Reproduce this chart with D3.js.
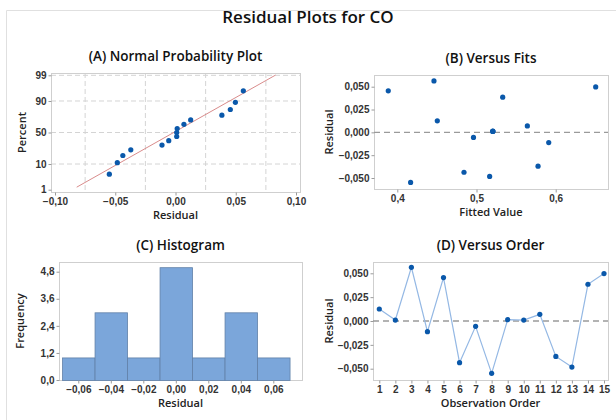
<!DOCTYPE html>
<html>
<head>
<meta charset="utf-8">
<script src="https://cdn.jsdelivr.net/npm/d3@7"></script>
<style>
  body { margin: 0; background: #fff; }
  svg { font-family: "Open Sans", "Noto Sans", sans-serif; }
  .tick text { font-size: 10px; font-weight: 600; fill: #333; }
  .tick line { stroke: #9a9a9a; }
</style>
</head>
<body>
<div id="chart"></div>
<script>
// residuals by observation order, and fitted values
const observation = [1, 2, 3, 4, 5, 6, 7, 8, 9, 10, 11, 12, 13, 14, 15]
const residuals = [0.0126, 0.0010, 0.0563, -0.0112, 0.0455, -0.0437, -0.0056, -0.0549, 0.0014, 0.0010, 0.0070, -0.0371, -0.0483, 0.0385, 0.0497]
const fitted = [0.4505, 0.5206, 0.4463, 0.5912, 0.3886, 0.4842, 0.4962, 0.4168, 0.5206, 0.5206, 0.5642, 0.5777, 0.5166, 0.5331, 0.6505]
// probability plot percent for the sorted residuals
const probPercent = [4.5, 11, 17.5, 24, 30.5, 37, 43.5, 50, 56.5, 63, 69.5, 76, 82.5, 89, 95.5]
const fitMean = -0.0015
const fitSd = 0.0362
const fitRange = [-0.082, 0.083]

// histogram
const binStart = [-0.07, -0.05, -0.03, -0.01, 0.01, 0.03, 0.05]
const binEnd = [-0.05, -0.03, -0.01, 0.01, 0.03, 0.05, 0.07]
const binCount = [1, 3, 1, 5, 1, 3, 1]

// tick labels
const pctTicks = [1, 10, 50, 90, 99]
const resTicksA = [-0.10, -0.05, 0.00, 0.05, 0.10]
const gridA = [-0.075, -0.025, 0.025, 0.075]
const fitTicks = [0.4, 0.5, 0.6]
const resTicks = [-0.050, -0.025, 0.000, 0.025, 0.050]
const freqTicks = [0, 1.2, 2.4, 3.6, 4.8]
const histTicks = [-0.06, -0.04, -0.02, 0.00, 0.02, 0.04, 0.06]

const loc = d3.formatLocale({decimal: ",", thousands: ".", grouping: [3], currency: ["", ""]})

// inverse normal cdf (Acklam)
function probit(p) {
    const a = [-39.69683028665376, 220.9460984245205, -275.9285104469687, 138.3577518672690, -30.66479806614716, 2.506628277459239]
    const b = [-54.47609879822406, 161.5858368580409, -155.6989798598866, 66.80131188771972, -13.28068155288572]
    const c = [-0.007784894002430293, -0.3223964580411365, -2.400758277161838, -2.549732539343734, 4.374664141464968, 2.938163982698783]
    const d = [0.007784695709041462, 0.3224671290700398, 2.445134137142996, 3.754408661907416]
    const pl = 0.02425
    let q, r
    if (p < pl) {
        q = Math.sqrt(-2 * Math.log(p))
        return (((((c[0]*q+c[1])*q+c[2])*q+c[3])*q+c[4])*q+c[5]) / ((((d[0]*q+d[1])*q+d[2])*q+d[3])*q+1)
    }
    if (p <= 1 - pl) {
        q = p - 0.5; r = q * q
        return (((((a[0]*r+a[1])*r+a[2])*r+a[3])*r+a[4])*r+a[5])*q / (((((b[0]*r+b[1])*r+b[2])*r+b[3])*r+b[4])*r+1)
    }
    q = Math.sqrt(-2 * Math.log(1 - p))
    return -(((((c[0]*q+c[1])*q+c[2])*q+c[3])*q+c[4])*q+c[5]) / ((((d[0]*q+d[1])*q+d[2])*q+d[3])*q+1)
}

const width = 616, height = 420
const svg = d3.select("#chart").append("svg").attr("width", width).attr("height", height)

// outer frame
svg.append("path").attr("d", "M6.5,420 V10.5 H616").attr("fill", "none").attr("stroke", "#e0e0e0")

svg.append("text").attr("x", 308).attr("y", 23).attr("text-anchor", "middle")
    .style("font-size", "17px").style("font-weight", 600).attr("fill", "#111").text("Residual Plots for CO")

const dotColor = "#0a58aa"

function frame(box) {
    svg.append("rect").attr("x", box.x0 + 0.5).attr("y", box.y0 + 0.5)
        .attr("width", box.x1 - box.x0).attr("height", box.y1 - box.y0)
        .attr("fill", "none").attr("stroke", "#cfcfcf")
}

function titles(box, title, xTitle, yTitle, yTitleX) {
    const cx = (box.x0 + box.x1) / 2
    svg.append("text").attr("x", cx).attr("y", box.y0 - 12).attr("text-anchor", "middle")
        .style("font-size", "13.5px").style("font-weight", 600).attr("fill", "#111").text(title)
    svg.append("text").attr("x", cx).attr("y", box.y1 + 27).attr("text-anchor", "middle")
        .style("font-size", "11px").style("font-weight", 600).attr("fill", "#222").text(xTitle)
    svg.append("text").attr("transform", `translate(${yTitleX},${(box.y0 + box.y1) / 2}) rotate(-90)`)
        .attr("text-anchor", "middle").style("font-size", "11px").style("font-weight", 600)
        .attr("fill", "#222").text(yTitle)
}

function axes(box, x, y, xTicks, yTicks, xFmt, yFmt) {
    svg.append("g").attr("transform", `translate(0,${box.y1 + 0.5})`)
        .call(d3.axisBottom(x).tickValues(xTicks).tickFormat(xFmt).tickSize(3).tickPadding(2))
        .call(g => g.select(".domain").remove())
    svg.append("g").attr("transform", `translate(${box.x0 + 0.5},0)`)
        .call(d3.axisLeft(y).tickValues(yTicks).tickFormat(yFmt).tickSize(3).tickPadding(2))
        .call(g => g.select(".domain").remove())
}

// ---- (A) Normal Probability Plot
const boxA = {x0: 51, x1: 300, y0: 73, y1: 192}
const xA = d3.scaleLinear().domain([-0.10, 0.10]).range([55, 296])
const zA = d3.scaleLinear().domain([-2.42, 2.42]).range([boxA.y1, boxA.y0])
const yA = p => zA(probit(p / 100))

const gA = svg.append("g")
gA.selectAll("line.vg").data(gridA).enter().append("line")
    .attr("x1", d => xA(d)).attr("x2", d => xA(d)).attr("y1", boxA.y0).attr("y2", boxA.y1)
    .attr("stroke", "#d4d4d4").attr("stroke-dasharray", "5,3")
gA.selectAll("line.hg").data(pctTicks.filter(p => p > 1)).enter().append("line")
    .attr("x1", boxA.x0).attr("x2", boxA.x1).attr("y1", d => yA(d)).attr("y2", d => yA(d))
    .attr("stroke", "#d4d4d4").attr("stroke-dasharray", "5,3")
frame(boxA)
gA.append("line")
    .attr("x1", xA(fitRange[0])).attr("y1", zA((fitRange[0] - fitMean) / fitSd))
    .attr("x2", xA(fitRange[1])).attr("y2", zA((fitRange[1] - fitMean) / fitSd))
    .attr("stroke", "#d98c8c").attr("stroke-width", 1)
const sortedRes = residuals.slice().sort(d3.ascending)
gA.selectAll("circle").data(sortedRes).enter().append("circle")
    .attr("cx", d => xA(d)).attr("cy", (d, i) => yA(probPercent[i])).attr("r", 2.6).attr("fill", dotColor)
axes(boxA, xA, zA, resTicksA, pctTicks.map(p => probit(p / 100)), loc.format(".2f"), (d, i) => pctTicks[i])
titles(boxA, "(A) Normal Probability Plot", "Residual", "Percent", 26)

// ---- (B) Versus Fits
const boxB = {x0: 374, x1: 608, y0: 75, y1: 189}
const xB = d3.scaleLinear().domain([0.4, 0.6]).range([397.3, 555.7])
const yB = d3.scaleLinear().domain([-0.05, 0.05]).range([178, 86.7])
frame(boxB)
svg.append("line").attr("x1", boxB.x0).attr("x2", boxB.x1).attr("y1", yB(0)).attr("y2", yB(0))
    .attr("stroke", "#9a9a9a").attr("stroke-width", 1.4).attr("stroke-dasharray", "6,4")
svg.append("g").selectAll("circle").data(fitted).enter().append("circle")
    .attr("cx", d => xB(d)).attr("cy", (d, i) => yB(residuals[i])).attr("r", 2.6).attr("fill", dotColor)
axes(boxB, xB, yB, fitTicks, resTicks, loc.format(".1f"), loc.format(".3f"))
titles(boxB, "(B) Versus Fits", "Fitted Value", "Residual", 333)

// ---- (C) Histogram
const boxC = {x0: 59, x1: 302, y0: 262, y1: 380}
const xC = d3.scaleLinear().domain([-0.06, 0.06]).range([78.3, 273.3])
const yC = d3.scaleLinear().domain([0, 4.8]).range([380, 271.7])
frame(boxC)
svg.append("g").selectAll("rect").data(binCount).enter().append("rect")
    .attr("x", (d, i) => xC(binStart[i]) + 0.5).attr("y", d => yC(d) + 0.5)
    .attr("width", (d, i) => xC(binEnd[i]) - xC(binStart[i])).attr("height", d => yC(0) - yC(d))
    .attr("fill", "#7ba6da").attr("stroke", "#6180a8").attr("stroke-width", 0.8)
axes(boxC, xC, yC, histTicks, freqTicks, loc.format(".2f"), loc.format(".1f"))
titles(boxC, "(C) Histogram", "Residual", "Frequency", 24)

// ---- (D) Versus Order
const boxD = {x0: 373, x1: 608, y0: 262, y1: 380}
const xD = d3.scaleLinear().domain([1, 15]).range([379.3, 604])
const yD = d3.scaleLinear().domain([-0.05, 0.05]).range([368.7, 273.3])
frame(boxD)
svg.append("line").attr("x1", boxD.x0).attr("x2", boxD.x1).attr("y1", yD(0)).attr("y2", yD(0))
    .attr("stroke", "#9a9a9a").attr("stroke-width", 1.4).attr("stroke-dasharray", "6,4")
svg.append("path").datum(residuals)
    .attr("d", d3.line().x((d, i) => xD(observation[i])).y(d => yD(d)))
    .attr("fill", "none").attr("stroke", "#94b8e4").attr("stroke-width", 1.2)
svg.append("g").selectAll("circle").data(residuals).enter().append("circle")
    .attr("cx", (d, i) => xD(observation[i])).attr("cy", d => yD(d)).attr("r", 2.6).attr("fill", dotColor)
axes(boxD, xD, yD, observation, resTicks, d => d, loc.format(".3f"))
titles(boxD, "(D) Versus Order", "Observation Order", "Residual", 333)
</script>
</body>
</html>
